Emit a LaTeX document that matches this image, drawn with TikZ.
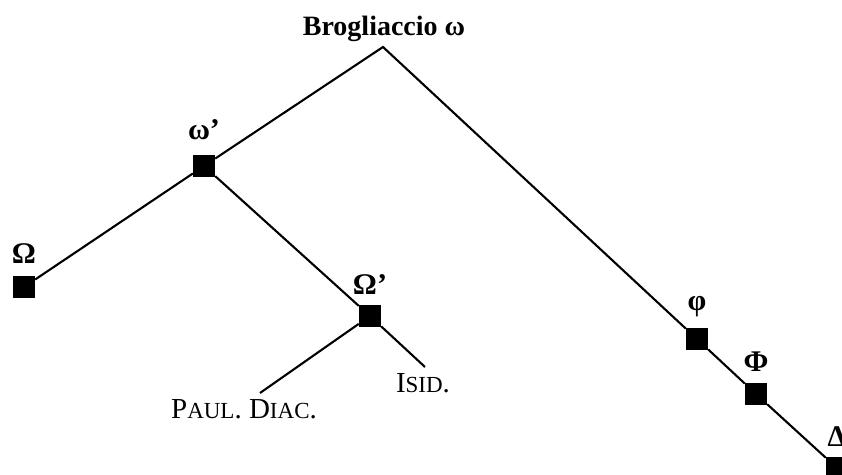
\documentclass[tikz,border=0pt]{standalone}
\usepackage{fontspec}
\setmainfont{Liberation Serif}
\usepackage{tikz}
\usetikzlibrary{positioning,calc}
\definecolor{ink}{HTML}{000000}
% small capitals for the witness names
\newcommand{\smc}[1]{{\fontsize{23}{28}\selectfont #1}}
\tikzset{
  ms/.style={rectangle, fill=ink, inner sep=0pt, minimum size=22pt},
  siglum/.style={font=\fontsize{30}{34}\selectfont\bfseries, inner sep=0pt},
  witness/.style={font=\fontsize{29}{32}\selectfont, inner sep=0pt, anchor=base},
  stemma/.style={draw=ink, line width=2.1pt}
}

\begin{document}
\begin{tikzpicture}[x=1pt, y=1pt]
  \useasboundingbox (0,0) rectangle (842,-474);

  \node[siglum, font=\fontsize{28}{32}\selectfont\bfseries, anchor=base] (brogl) at (384,-35) {Brogliaccio ω};
  \coordinate (top) at (383,-47);

  % manuscripts
  \node[ms] (omegap) at (204,-166) {};
  \node[ms] (Omega) at (24,-287) {};
  \node[ms] (Omegap) at (370,-316) {};
  \node[ms] (phi) at (697,-339) {};
  \node[ms] (Phi) at (756,-394) {};
  \node[ms] (Delta) at (837,-468) {};

  % sigla
  \node[siglum, above=15pt of omegap] (omegaplbl) {ω’};
  \node[siglum, above=12pt of Omega] (Omegalbl) {Ω};
  \node[siglum, above=10pt of Omegap] (Omegaplbl) {Ω’};
  \node[siglum, above=11pt of phi] (philbl) {φ};
  \node[siglum, above=11pt of Phi] (Philbl) {Φ};
  \node[siglum, above=10pt of Delta] (Deltalbl) {Δ};

  \node[witness] (paul) at (244,-418) {P\smc{AUL}. D\smc{IAC}.};
  \node[witness] (isid) at (423,-392) {I\smc{SID}.};
  \coordinate (paulend) at (260,-393);
  \coordinate (isidend) at (425,-367);

  \draw[stemma] (omegap) -- (top) -- (phi);
  \draw[stemma] (omegap) -- (Omega);
  \draw[stemma] (omegap) -- (Omegap);
  \draw[stemma] (phi) -- (Phi);
  \draw[stemma] (Phi) -- (Delta);
  \draw[stemma] (Omegap) -- (paulend);
  \draw[stemma] (Omegap) -- (isidend);
\end{tikzpicture}
\end{document}
